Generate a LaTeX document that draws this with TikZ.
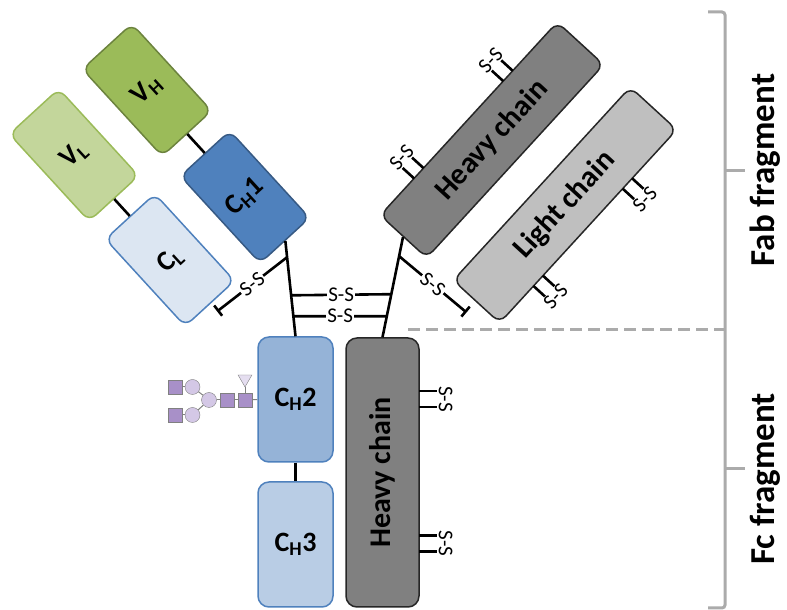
\documentclass[tikz,border=0pt]{standalone}
\usepackage{fontspec}
\setmainfont{Carlito}
\usetikzlibrary{calc,arrows.meta,positioning,shapes.geometric}
\definecolor{verdescuro}{HTML}{9BBB59}
\definecolor{verdechiaro}{HTML}{C3D69B}
\definecolor{bluscuro}{HTML}{4F81BD}
\definecolor{bluchiaro}{HTML}{DCE6F2}
\definecolor{blumedio}{HTML}{95B3D7}
\definecolor{bluterzo}{HTML}{B9CDE5}
\definecolor{viola}{HTML}{A890C8}
\definecolor{lilla}{HTML}{D4C8E6}
\tikzstyle{dominio} = [rectangle,rounded corners=9pt,line width=1.5pt,minimum width=67pt,minimum height=118pt,text centered,font=\bfseries\fontsize{28}{28}\selectfont,rotate=42.5]
\tikzstyle{catena} = [rectangle,rounded corners=9pt,line width=1.5pt,draw=black!85,minimum width=262pt,minimum height=63pt,font=\bfseries\fontsize{30}{30}\selectfont,rotate=47.5]
\tikzstyle{dominiofc} = [rectangle,rounded corners=11pt,line width=1.5pt,draw=bluscuro,minimum width=75pt,minimum height=125pt,font=\bfseries\fontsize{28}{28}\selectfont]
\tikzstyle{legame} = [line width=2.6pt]
\tikzstyle{ponte} = [font=\fontsize{21}{21}\selectfont,fill=white,inner sep=1pt]
\tikzstyle{zucchero} = [rectangle,draw=black!50,fill=viola,minimum size=14pt,inner sep=0pt]
\tikzstyle{anello} = [circle,draw=black!50,fill=lilla,minimum size=15pt,inner sep=0pt]
\tikzstyle{parentesi} = [line width=3pt,draw=black!33]

\begin{document}
\begin{tikzpicture}[x=1pt,y=1pt]
\useasboundingbox (0,0) rectangle (787,610);

% Fab, left arm
\node (VL)  [dominio,fill=verdechiaro,draw=verdescuro] at (74,455) {V\textsubscript{L}};
\node (VH)  [dominio,fill=verdescuro,draw=verdescuro!70!black] at (147,520) {V\textsubscript{H}};
\node (CH1) [dominio,fill=bluscuro,draw=bluscuro!70!black] at (245,413) {C\textsubscript{H}1};
\node (CL)  [dominio,fill=bluchiaro,draw=bluscuro] at (170,350) {C\textsubscript{L}};

% Fab, right arm
\node (HC) [catena,fill=black!50] at (492,470) {Heavy chain};
\node (LC) [catena,fill=black!25] at (565,405) {Light chain};

% Fc
\node (CH2)  [dominiofc,fill=blumedio] at (295.5,210.5) {C\textsubscript{H}2};
\node (CH3)  [dominiofc,fill=bluterzo,below of=CH2,node distance=145pt] {C\textsubscript{H}3};
\node (HCfc) [dominiofc,fill=black!50,draw=black!85,minimum width=269pt,minimum height=73pt,rotate=90,font=\bfseries\fontsize{30}{30}\selectfont] at (382.5,137.5) {Heavy chain};

% glycan
\node (s1) [zucchero] at (175,223) {};
\node (c1) [anello]   at (192.5,223) {};
\node (s2) [zucchero] at (175,195) {};
\node (c2) [anello]   at (192.5,195) {};
\node (c3) [anello]   at (209,210) {};
\node (s3) [zucchero] at (227,210) {};
\node (s4) [zucchero] at (245,210) {};
\node (fu) [isosceles triangle,isosceles triangle apex angle=60,shape border rotate=-90,draw=black!50,fill=lilla!60,minimum size=12pt,inner sep=0pt] at (245,231) {};

\draw[black!50,line width=1pt] (s1) -- (c1);
\draw[black!50,line width=1pt] (s2) -- (c2);
\draw[black!50,line width=1pt] (c1) -- (c3);
\draw[black!50,line width=1pt] (c2) -- (c3);
\draw[black!50,line width=1pt] (c3) -- (s3);
\draw[black!50,line width=1pt] (s3) -- (s4);
\draw[black!50,line width=1pt] (s4) -- (fu);
\draw[black!50,line width=1pt] (s4) -- (CH2.west);

\draw[legame] (VH) -- (CH1);
\draw[legame] (VL) -- (CL);
\draw[legame] (CH2) -- (CH3);

% hinge
\draw[legame] (CH1.south) -- (CH2.north);
\draw[legame] (HC.west) -- (HCfc.east);

\coordinate (pL0) at ($(CH1.south)!0.17!(CH2.north)$);
\coordinate (pL1) at ($(CH1.south)!0.57!(CH2.north)$);
\coordinate (pL2) at ($(CH1.south)!0.79!(CH2.north)$);
\coordinate (pR0) at ($(HC.west)!0.19!(HCfc.east)$);
\coordinate (pR1) at ($(HC.west)!0.57!(HCfc.east)$);
\coordinate (pR2) at ($(HC.west)!0.79!(HCfc.east)$);
\coordinate (bCL) at ($(CL.south)!-10pt!(CL.center)$);
\coordinate (bLC) at ($(LC.west)!-14pt!(LC.center)$);

\draw[legame] (pL1) -- node[ponte] {S-S} (pR1);
\draw[legame] (pL2) -- node[ponte] {S-S} (pR2);
\draw[legame,-{Bar[width=13pt,line width=2.6pt]}] (pL0) -- node[ponte,sloped] {S-S} (bCL);
\draw[legame,-{Bar[width=13pt,line width=2.6pt]}] (pR0) -- node[ponte,sloped] {S-S} (bLC);

% outer S-S
\begin{scope}[shift={(HC.center)},rotate=47.5]
\foreach \u in {58,-74} {
  \draw[legame] (\u-7,31.5) -- (\u-7,47);
  \draw[legame] (\u+7,31.5) -- (\u+7,47);
  \node[ponte,fill=none,rotate=47.5] at (\u,55) {S-S};
}
\end{scope}
\begin{scope}[shift={(LC.center)},rotate=47.5]
\foreach \u in {58,-74} {
  \draw[legame] (\u-7,-31.5) -- (\u-7,-47);
  \draw[legame] (\u+7,-31.5) -- (\u+7,-47);
  \node[ponte,fill=none,rotate=47.5] at (\u,-55) {S-S};
}
\end{scope}
\begin{scope}[shift={(HCfc.center)}]
\foreach \v in {73.5,-71} {
  \draw[legame] (36.5,\v+8) -- (54,\v+8);
  \draw[legame] (36.5,\v-8) -- (54,\v-8);
  \node[ponte,fill=none,rotate=-90] at (63,\v) {S-S};
}
\end{scope}

% brackets
\coordinate (giunto) at (725,280);
\coordinate (tratto) at (408,280);
\draw[parentesi,rounded corners=3pt] (708,598) -- (725,598) -- (725,2) -- (708,2);
\draw[parentesi] (725,439) -- (745,439);
\draw[parentesi] (725,141) -- (745,141);
\draw[parentesi,dash pattern=on 12pt off 6pt] (tratto) -- (giunto);

\node (fab) [rotate=90,font=\bfseries\fontsize{35}{35}\selectfont] at (765,440) {Fab fragment};
\node (fc)  [rotate=90,font=\bfseries\fontsize{35}{35}\selectfont] at (765,131) {Fc fragment};

\end{tikzpicture}
\end{document}
